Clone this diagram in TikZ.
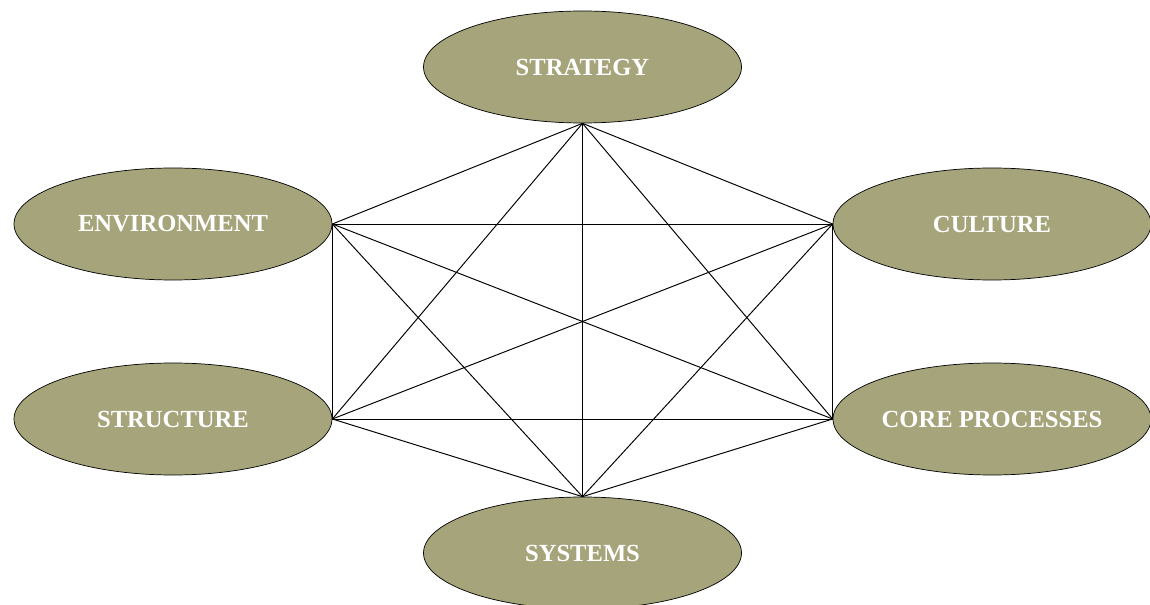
\documentclass[tikz,border=0pt]{standalone}
\usepackage{fontspec}
\setmainfont{Liberation Serif}
\usetikzlibrary{shapes.geometric}
\definecolor{olivefill}{RGB}{165,164,122}

\begin{document}
\begin{tikzpicture}[node distance=1cm]
\tikzstyle {oval}=[ellipse, minimum width=6.36cm, minimum height=2.24cm, inner sep=0pt, draw=black, thin, fill=olivefill, text=white, font=\fontsize{14}{16}\selectfont\bfseries]
\tikzstyle {link}=[draw=black, line width=0.55pt]
\useasboundingbox (0,0) rectangle (23,-12.1);
\node (environment) [oval] at (3.46,-4.48) {ENVIRONMENT};
\node (structure) [oval, below of=environment, node distance=3.9cm] {STRUCTURE};
\node (culture) [oval, right of=environment, node distance=16.38cm] {CULTURE};
\node (core) [oval, right of=structure, node distance=16.38cm] {CORE PROCESSES};
\node (strategy) [oval, above of=environment, node distance=3.14cm, xshift=8.19cm] {STRATEGY};
\node (systems) [oval, below of=structure, node distance=2.68cm, xshift=8.19cm] {SYSTEMS};
% every point joined to every other
\foreach \a/\b in {strategy.south/environment.east, strategy.south/culture.west,
                   strategy.south/structure.east, strategy.south/core.west,
                   strategy.south/systems.north, environment.east/culture.west,
                   environment.east/structure.east, environment.east/core.west,
                   environment.east/systems.north, culture.west/structure.east,
                   culture.west/core.west, culture.west/systems.north,
                   structure.east/core.west, structure.east/systems.north,
                   core.west/systems.north}
  \draw [link] (\a) -- (\b);
\end{tikzpicture}
\end{document}
